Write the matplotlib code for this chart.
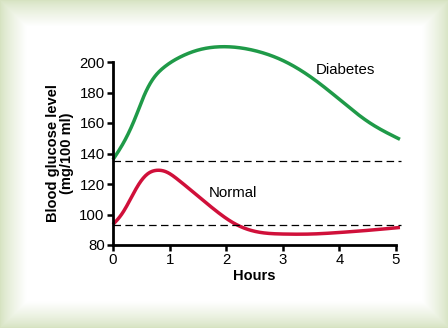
import numpy as np
import matplotlib.pyplot as plt

plt.rcParams['font.family'] = ['Liberation Sans', 'DejaVu Sans']

# Data
hours_diab = [0, 0.2, 0.4, 0.55, 0.7, 0.9, 1.2, 1.5, 1.9, 2.5, 3.0, 3.5, 4.0, 4.5, 5.07]
diabetes = [136, 148, 164, 178, 188.5, 196.5, 203.5, 207.8, 210, 207.5, 201, 190, 175.5, 161, 149.3]
hours_norm = [0, 0.15, 0.3, 0.45, 0.6, 0.78, 0.95, 1.15, 1.44, 1.8, 2.15, 2.5, 3.0, 3.5, 4.0, 4.5, 5.07]
normal = [93.5, 100, 109.5, 119.5, 126.3, 129, 127.8, 122.8, 114, 103, 94, 89, 87.2, 87.2, 88.2, 89.6, 91.5]
baseline_diab = 135
baseline_norm = 93
xticks = [0, 1, 2, 3, 4, 5]
yticks = [80, 100, 120, 140, 160, 180, 200]


def spline(xs, ys, n=400):
    # natural cubic spline through the read points
    x = np.asarray(xs, float)
    y = np.asarray(ys, float)
    k = len(x)
    h = np.diff(x)
    A = np.zeros((k, k))
    r = np.zeros(k)
    A[0, 0] = A[-1, -1] = 1
    for i in range(1, k - 1):
        A[i, i - 1] = h[i - 1]
        A[i, i] = 2 * (h[i - 1] + h[i])
        A[i, i + 1] = h[i]
        r[i] = 3 * ((y[i + 1] - y[i]) / h[i] - (y[i] - y[i - 1]) / h[i - 1])
    c = np.linalg.solve(A, r)
    b = (y[1:] - y[:-1]) / h - h * (2 * c[:-1] + c[1:]) / 3
    d = (c[1:] - c[:-1]) / (3 * h)
    xn = np.linspace(x[0], x[-1], n)
    idx = np.clip(np.searchsorted(x, xn) - 1, 0, k - 2)
    t = xn - x[idx]
    yn = y[idx] + b[idx] * t + c[idx] * t**2 + d[idx] * t**3
    return xn, yn


fig = plt.figure(figsize=(4.48, 3.28), dpi=100)

# green frame background
bg = fig.add_axes([0, 0, 1, 1], zorder=-10)
W, H = 448, 328
xx, yy = np.meshgrid(np.arange(W), np.arange(H))
dist = np.minimum(np.minimum(xx, W - 1 - xx), np.minimum(yy, H - 1 - yy)).astype(float)
f = np.clip(dist / 26.0, 0, 1) ** 0.8
edge = np.array([0.84, 0.89, 0.76])
img = edge[None, None, :] * (1 - f[..., None]) + f[..., None]
bg.imshow(img, aspect='auto', extent=[0, 1, 0, 1])
bg.axis('off')

ax = fig.add_axes([113 / W, 1 - 245 / H, (396 - 113) / W, (245 - 62) / H])
ax.patch.set_alpha(0)

dx, dy = spline(hours_diab, diabetes)
nx, ny = spline(hours_norm, normal)
ax.plot(dx, dy, color='#1f9a48', lw=2.5, clip_on=False, solid_capstyle='butt')
ax.plot(nx, ny, color='#d0103a', lw=2.5, clip_on=False, solid_capstyle='butt')
ax.plot([0, 5.08], [baseline_diab, baseline_diab], color='black', lw=0.9,
        ls=(0, (6, 3.5)), clip_on=False)
ax.plot([0, 5.08], [baseline_norm, baseline_norm], color='black', lw=0.9,
        ls=(0, (6, 3.5)), clip_on=False)

ax.text(3.59, 194.8, 'Diabetes', fontsize=10.8, va='center', ha='left')
ax.text(1.70, 114.3, 'Normal', fontsize=10.8, va='center', ha='left')

ax.set_xlim(0, 5)
ax.set_ylim(80, 200)
ax.set_xticks(xticks)
ax.set_yticks(yticks)
ax.tick_params(labelsize=10.8, width=1.8, length=4, direction='out', pad=2)
for s in ['top', 'right']:
    ax.spines[s].set_visible(False)
for s in ['left', 'bottom']:
    ax.spines[s].set_linewidth(2)
ax.set_xlabel('Hours', fontsize=10.5, fontweight='bold', labelpad=1)
ax.set_ylabel('Blood glucose level\n(mg/100 ml)', fontsize=10.5, fontweight='bold',
              linespacing=1.0, labelpad=4)

fig.savefig('out.png', dpi=100)
